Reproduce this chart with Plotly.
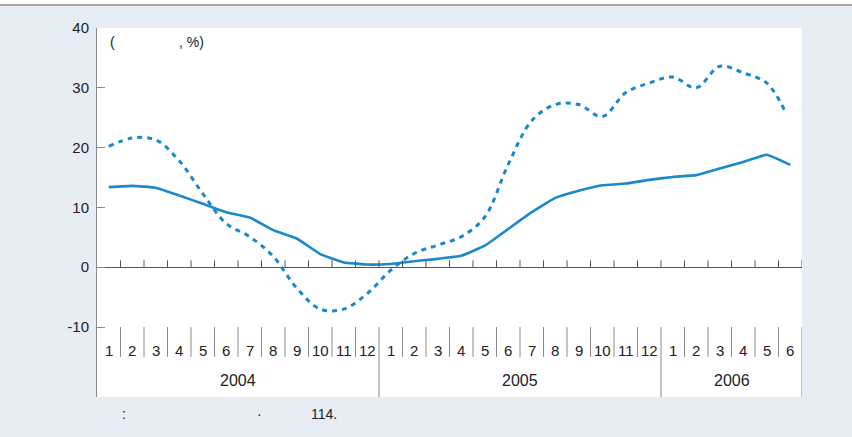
import plotly.graph_objects as go

months = ["1","2","3","4","5","6","7","8","9","10","11","12",
          "1","2","3","4","5","6","7","8","9","10","11","12",
          "1","2","3","4","5","6"]
years = ["2004", "2005", "2006"]
year_month_counts = [12, 12, 6]

solid_vals = [13.4, 13.6, 13.3, 12.0, 10.6, 9.2, 8.3, 6.2, 4.8, 2.2, 0.8, 0.45,
              0.55, 1.0, 1.4, 1.9, 3.6, 6.4, 9.2, 11.6, 12.8, 13.7, 14.0, 14.6,
              15.1, 15.4, 16.5, 17.6, 18.8, 17.1]
dashed_vals = [20.2, 21.6, 21.3, 17.8, 12.3, 7.3, 5.1, 1.8, -3.5, -7.0, -7.0, -4.4,
               -0.5, 2.3, 3.7, 5.1, 8.4, 17.2, 24.5, 27.2, 27.2, 25.2, 29.2, 30.8,
               31.8, 30.0, 33.6, 32.5, 30.8, 26.3]

n = len(months)
xs = [i + 0.5 for i in range(n)]
xs_dash = xs[:-1] + [xs[-1] - 0.25]

BLUE = "#1a88c9"
GRAY = "#8a8a8a"
FONT = "Liberation Sans, Arial, sans-serif"
YMIN, YMAX = -21.7, 40

fig = go.Figure()
fig.add_trace(go.Scatter(x=xs_dash, y=dashed_vals, mode="lines",
                         line=dict(color=BLUE, width=3, dash="5px,5px", shape="spline", smoothing=1.0),
                         showlegend=False, hoverinfo="skip"))
fig.add_trace(go.Scatter(x=xs, y=solid_vals, mode="lines",
                         line=dict(color=BLUE, width=2.6, shape="spline", smoothing=0.3),
                         showlegend=False, hoverinfo="skip"))

shapes = []
annotations = []
# ticks on zero line
for i in range(1, n + 1):
    shapes.append(dict(type="line", xref="x", yref="y", x0=i, x1=i, y0=0, y1=1.15,
                       line=dict(color="#555", width=1)))
# category dividers
boundaries = set()
c = 0
for cnt in year_month_counts:
    c += cnt
    boundaries.add(c)
for i in range(1, n + 1):
    if i in boundaries:
        shapes.append(dict(type="line", xref="x", yref="y", x0=i, x1=i, y0=-10, y1=YMIN,
                           line=dict(color=GRAY, width=1)))
    else:
        shapes.append(dict(type="line", xref="x", yref="y", x0=i, x1=i, y0=-10, y1=-15.0,
                           line=dict(color=GRAY, width=1)))
# top border line
shapes.append(dict(type="rect", xref="paper", yref="paper", x0=-0.2, x1=1.1, y0=1.062, y1=1.1,
                   fillcolor="white", line=dict(width=0), layer="below"))
shapes.append(dict(type="line", xref="paper", yref="paper", x0=-0.2, x1=1.1, y0=1.062, y1=1.062,
                   line=dict(color="#888", width=1.5)))

for i, m in enumerate(months):
    annotations.append(dict(x=i + 0.5, y=-13.85, xref="x", yref="y", text=m, showarrow=False,
                            font=dict(size=15, color="#222", family=FONT)))
start = 0
for yr, cnt in zip(years, year_month_counts):
    annotations.append(dict(x=start + cnt / 2, y=-18.9, xref="x", yref="y", text=yr, showarrow=False,
                            font=dict(size=16, color="#222", family=FONT)))
    start += cnt

annotations.append(dict(x=0.45, y=37.6, xref="x", yref="y", text="(", showarrow=False, xanchor="left",
                        font=dict(size=14, color="#222", family=FONT)))
annotations.append(dict(x=3.4, y=37.6, xref="x", yref="y", text=", %)", showarrow=False, xanchor="left",
                        font=dict(size=14, color="#222", family=FONT)))
annotations.append(dict(x=1.14, y=-0.045, xref="x", yref="paper", text=":", showarrow=False,
                        yanchor="middle", font=dict(size=14, color="#222", family=FONT)))
annotations.append(dict(x=6.92, y=-0.045, xref="x", yref="paper", text="·", showarrow=False,
                        yanchor="middle", font=dict(size=14, color="#222", family=FONT)))
annotations.append(dict(x=9.0, y=-0.045, xref="x", yref="paper", text="114.", showarrow=False, xanchor="left",
                        yanchor="middle", font=dict(size=14, color="#222", family=FONT)))

fig.update_layout(
    width=852, height=437,
    margin=dict(l=97, r=50, t=28, b=40),
    paper_bgcolor="#e6edf5", plot_bgcolor="white",
    xaxis=dict(range=[0, n], visible=False, fixedrange=True),
    yaxis=dict(range=[YMIN, YMAX], tickvals=[-10, 0, 10, 20, 30, 40],
               ticktext=["-10", "0", "10", "20", "30", "40"],
               ticks="inside", ticklen=8, tickcolor=GRAY, showgrid=False,
               showline=True, linecolor=GRAY, linewidth=1, fixedrange=True,
               zeroline=True, zerolinecolor="#555", zerolinewidth=1,
               tickfont=dict(size=15, color="#222", family=FONT), ticklabelstandoff=4),
    shapes=shapes, annotations=annotations,
)

fig.write_html("out.html", config={"displayModeBar": False},
               post_script="document.body.style.margin='0';document.body.style.overflow='hidden';")
